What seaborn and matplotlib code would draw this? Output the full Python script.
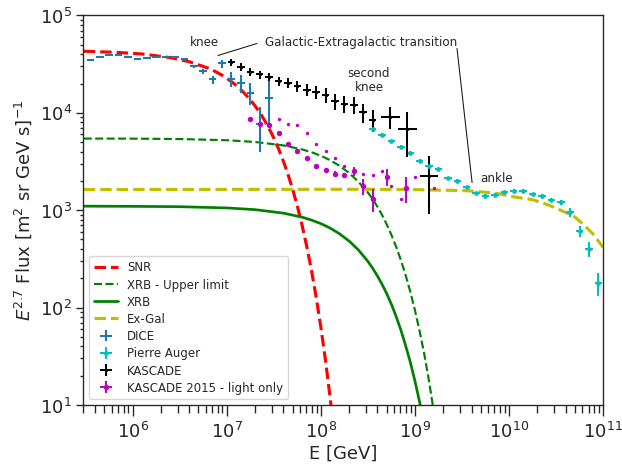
import numpy as np
import pandas as pd
import matplotlib
matplotlib.use("Agg")
import matplotlib.pyplot as plt
import seaborn as sns

# ---------------- model curves (log10 E [GeV], E^2.7 flux)
snr_logE = [5.48, 5.8, 6.1, 6.4, 6.6, 6.8, 6.85, 6.9, 6.95, 7.0, 7.05, 7.1, 7.15, 7.2, 7.25,
            7.3, 7.35, 7.4, 7.45, 7.5, 7.55, 7.6, 7.65, 7.7, 7.75, 7.8, 7.85, 7.9, 7.95,
            8.0, 8.05, 8.1, 8.15]
snr_flux = [42900, 41900, 40200, 36900, 33500, 28800, 27400, 25900, 24300, 22600, 20900,
            19100, 17300, 15400, 13600, 11800, 10100, 8420, 6900, 5510, 4280, 3220, 2345,
            1644, 1102, 704, 425, 242, 128, 63, 28.4, 11.6, 4.3]

xrbu_logE = [5.48, 6.0, 6.5, 7.0, 7.3, 7.6, 7.8, 7.9, 8.0, 8.1, 8.2, 8.3, 8.4, 8.5, 8.55,
             8.6, 8.65, 8.7, 8.75, 8.8, 8.85, 8.9, 8.95, 9.0, 9.05, 9.1, 9.15, 9.2]
xrbu_flux = [5440, 5430, 5380, 5230, 5020, 4630, 4210, 3940, 3625, 3260, 2850, 2415, 1955,
             1520, 1300, 1090, 895, 715, 557, 422, 308, 217, 146, 94, 57, 33, 17.5, 8.6]

xrb_logE = [5.48, 6.0, 6.5, 7.0, 7.3, 7.6, 7.8, 7.9, 8.0, 8.1, 8.2, 8.3, 8.4, 8.5, 8.55,
            8.6, 8.65, 8.7, 8.75, 8.8, 8.85, 8.9, 8.95, 9.0, 9.05, 9.1]
xrb_flux = [1100, 1095, 1086, 1055, 1013, 933, 848, 792, 728, 654, 571, 482, 390, 298, 254,
            212, 174, 139, 108, 81, 59, 41, 27.7, 17.6, 10.7, 6.0]

exgal_logE = [5.48, 7.0, 8.5, 9.0, 9.3, 9.55, 9.75, 9.9, 10.05, 10.25, 10.4, 10.5, 10.6,
              10.7, 10.8, 10.9, 11.0]
exgal_flux = [1630, 1635, 1640, 1625, 1605, 1585, 1530, 1470, 1370, 1280, 1150, 1050, 950,
              850, 700, 560, 415]

# ---------------- measurements
dice_logE = [5.55, 5.65, 5.75, 5.85, 5.95, 6.05, 6.15, 6.25, 6.35, 6.45,
             6.55, 6.65, 6.75, 6.85, 6.95, 7.05, 7.15, 7.25, 7.35, 7.45]
dice_flux = [34700, 37700, 38800, 39100, 37700, 35900, 36700, 37700, 37000, 37000,
             35300, 30100, 26800, 22000, 32100, 22300, 20300, 16100, 7760, 14300]
dice_err = [800, 800, 800, 800, 800, 800, 800, 800, 800, 800,
            900, 1200, 1500, 2000, 3000, 4000, 4300, 4100, 3800, 7200]
dice_halfbin = [0.04] * 20

auger_logE = [8.55, 8.65, 8.75, 8.85, 8.95, 9.05, 9.15, 9.25, 9.35, 9.45, 9.55, 9.65, 9.75,
              9.85, 9.95, 10.05, 10.15, 10.25, 10.35, 10.45, 10.55, 10.65, 10.75, 10.85, 10.95]
auger_flux = [6840, 5970, 5150, 4500, 3900, 3230, 2820, 2650, 2135, 2010, 1715, 1500, 1410,
              1443, 1523, 1588, 1588, 1453, 1410, 1262, 1203, 949, 605, 402, 178]
auger_err = [200, 180, 150, 130, 110, 90, 80, 75, 60, 60, 50, 45, 45,
             45, 50, 55, 60, 60, 60, 60, 60, 95, 75, 70, 48]
auger_halfbin = [0.04] * 25

kas_logE = [7.05, 7.15, 7.25, 7.35, 7.45, 7.55, 7.65, 7.75, 7.85, 7.95,
            8.05, 8.15, 8.25, 8.35, 8.45, 8.55, 8.74, 8.92, 9.15]
kas_flux = [33000, 29700, 26400, 24800, 23200, 21100, 20300, 18750, 17300, 16400,
            15400, 13150, 12350, 12150, 10150, 8530, 9100, 6850, 2270]
kas_err = [3000, 2700, 2400, 2300, 2200, 2100, 2300, 2300, 2500, 2500,
           2700, 2400, 2500, 2500, 2300, 2200, 2300, 3300, 1350]
kas_halfbin = [0.04] * 16 + [0.1, 0.1, 0.1]

k15_logE = [7.25, 7.35, 7.45, 7.55, 7.65, 7.75, 7.85, 7.95, 8.05, 8.15, 8.25, 8.35, 8.45, 8.55, 8.70, 8.90]
k15_flux = [8690, 7660, 7530, 6270, 4750, 4100, 3410, 2870, 2570, 2360, 2280, 2500, 1775, 1304, 2200, 1700]
k15_err = [150, 150, 150, 120, 100, 90, 80, 70, 80, 150, 150, 250, 340, 340, 420, 510]
k15_halfbin = [0.015] * 16
k15_shift_logE = [7.55, 7.65, 7.75, 7.85, 7.95, 8.05, 8.15, 8.25, 8.35, 8.45, 8.55, 8.65, 8.75, 8.85, 9.00, 9.20]


def xerr_from(logE, halfbin):
    lo = [10 ** l - 10 ** (l - h) for l, h in zip(logE, halfbin)]
    hi = [10 ** (l + h) - 10 ** l for l, h in zip(logE, halfbin)]
    return [lo, hi]


sns.set_style("ticks")
plt.rcParams["font.family"] = ["DejaVu Sans"]
plt.rcParams["mathtext.fontset"] = "dejavusans"

fig = plt.figure(figsize=(6.4, 4.8), dpi=97.2)
ax = fig.add_axes([0.1342, 0.1309, 0.8353, 0.8348])
ax.set_xscale("log")
ax.set_yscale("log")

curves = [
    (snr_logE, snr_flux, "SNR", "r", "--", 2.3),
    (xrbu_logE, xrbu_flux, "XRB - Upper limit", "g", "--", 1.6),
    (xrb_logE, xrb_flux, "XRB", "g", "-", 2.0),
    (exgal_logE, exgal_flux, "Ex-Gal", "y", "--", 2.3),
]
for lE, fl, lab, col, ls, lw in curves:
    df = pd.DataFrame({"E": np.power(10.0, lE), "F": fl})
    sns.lineplot(data=df, x="E", y="F", ax=ax, color=col, linestyle=ls,
                 linewidth=lw, label=lab, sort=False, estimator=None)

E = lambda l: np.power(10.0, np.array(l))
ax.errorbar(E(dice_logE), dice_flux, xerr=xerr_from(dice_logE, dice_halfbin), yerr=dice_err,
            fmt="none", ecolor="#1f77b4", elinewidth=1.5, label="DICE")
ax.errorbar(E(auger_logE), auger_flux, xerr=xerr_from(auger_logE, auger_halfbin), yerr=auger_err,
            fmt="o", ms=2.5, color="c", elinewidth=1.5, label="Pierre Auger")
ax.errorbar(E(kas_logE), kas_flux, xerr=xerr_from(kas_logE, kas_halfbin), yerr=kas_err,
            fmt=".", ms=3, color="k", elinewidth=1.5, label="KASCADE")
ax.errorbar(E(k15_logE), k15_flux, xerr=xerr_from(k15_logE, k15_halfbin), yerr=k15_err,
            fmt="o", ms=3, color="m", elinewidth=1.5, label="KASCADE 2015 - light only")
ax.plot(E(k15_shift_logE), k15_flux, "o", ms=1.5, color="m", label="_nolegend_")

ax.set_xlim(3e5, 1e11)
ax.set_ylim(10, 1e5)

fs = 13.3
ax.set_xlabel("E [GeV]", fontsize=fs, color="0.15", labelpad=2)
ax.set_ylabel(r"$E^{2.7}$ Flux [m$^2$ sr GeV s]$^{-1}$", fontsize=fs, color="0.15", labelpad=4)
ax.tick_params(axis="both", which="major", labelsize=fs, direction="out", color="0.15")
ax.tick_params(axis="x", which="major", length=8.5, width=1.0)
ax.tick_params(axis="x", which="minor", length=6, width=1.0)
ax.tick_params(axis="y", which="major", length=5, width=1.0)
ax.tick_params(axis="y", which="minor", length=2.5, width=1.0)
for s in ax.spines.values():
    s.set_color("0.15")
    s.set_linewidth(1.0)

# annotations
afs = 8.8
ax.text(5.75e6, 5.4e4, "knee", fontsize=afs, ha="center", va="center", color="0.15")
ax.text(2.55e7, 5.4e4, "Galactic-Extragalactic transition", fontsize=afs, ha="left",
        va="center", color="0.15")
ax.annotate("", xy=(8.07e6, 3.88e4), xytext=(2.09e7, 5.15e4),
            arrowprops=dict(arrowstyle="-", color="0.1", lw=0.8, shrinkA=0, shrinkB=0))
ax.annotate("", xy=(4.05e9, 1.92e3), xytext=(2.8e9, 4.58e4),
            arrowprops=dict(arrowstyle="-", color="0.1", lw=0.8, shrinkA=0, shrinkB=0))
ax.text(3.25e8, 2.2e4, "second\nknee", fontsize=afs, ha="center", va="center",
        color="0.15", linespacing=1.1)
ax.text(4.93e9, 2.16e3, "ankle", fontsize=afs, ha="left", va="center", color="0.15")

leg = ax.legend(loc="lower left", fontsize=8.7, frameon=True, framealpha=0.8,
                edgecolor="0.8", fancybox=True, labelspacing=0.36)

fig.savefig("out.png", dpi=97.2)
